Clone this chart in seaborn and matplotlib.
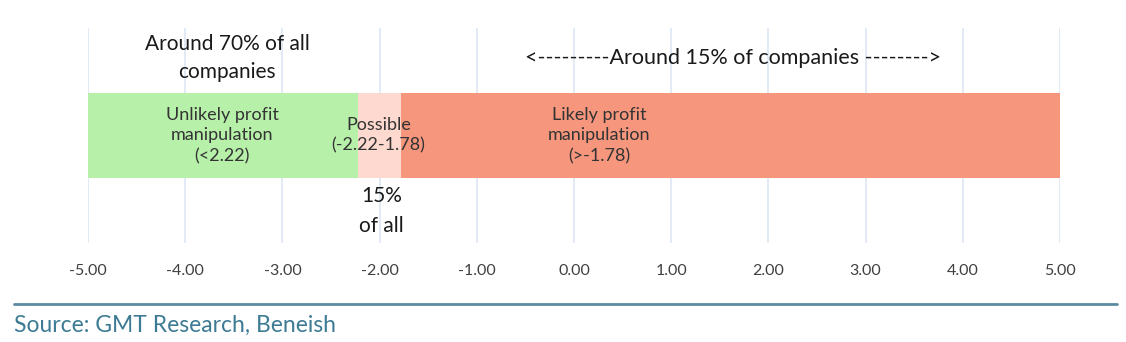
import matplotlib
matplotlib.use("Agg")
import matplotlib.pyplot as plt
import seaborn as sns
import pandas as pd

# Data
segments = ["Unlikely profit\nmanipulation\n(<2.22)", "Possible\n(-2.22-1.78)", "Likely profit\nmanipulation\n(>-1.78)"]
seg_start = [-5.00, -2.22, -1.78]
seg_end = [-2.22, -1.78, 5.00]
seg_colors = ["#b7f0a9", "#fdd9cf", "#f5967d"]
label_x = [-3.62, -2.01, 0.26]
x_ticks = [-5, -4, -3, -2, -1, 0, 1, 2, 3, 4, 5]
tick_labels = ["%.2f" % t for t in x_ticks]
top_left_note = "Around 70% of all\ncompanies"
top_right_note = "<---------Around 15% of companies -------->"
mid_note = "15%\nof all"
source = "Source: GMT Research, Beneish"

sns.set_theme(style="white")
plt.rcParams['font.family'] = ['Lato', 'DejaVu Sans']

fig = plt.figure(figsize=(11.26, 3.42), dpi=100)
ax = fig.add_axes([88/1126, 1-243/342, (1060-88)/1126, (243-28)/342])

df = pd.DataFrame({"label": segments, "start": seg_start, "end": seg_end})
df["width"] = df["end"] - df["start"]
for i, r in df.iterrows():
    ax.barh(0.5, r["width"], left=r["start"], height=0.395, color=seg_colors[i],
            linewidth=0, zorder=2)
    ax.text(label_x[i], 0.5, r["label"], ha="center", va="center", fontsize=13,
            color="#333333", linespacing=1.35, zorder=3)

ax.set_xlim(-5, 5)
ax.set_ylim(0, 1)
ax.set_xticks(x_ticks)
ax.set_xticklabels(tick_labels, fontsize=11.5, color="#404040")
ax.set_yticks([])
ax.tick_params(axis="x", length=0, pad=15)
for s in ax.spines.values():
    s.set_visible(False)
ax.grid(axis="x", color="#dbe6f3", linewidth=1.2, zorder=0)
ax.set_axisbelow(True)

ax.text(-3.57, 0.86, top_left_note, ha="center", va="center", fontsize=15,
        color="#1a1a1a", linespacing=1.55)
ax.text(1.64, 0.86, top_right_note, ha="center", va="center", fontsize=15.5,
        color="#1a1a1a")
ax.text(-1.98, 0.15, mid_note, ha="center", va="center", fontsize=15,
        color="#1a1a1a", linespacing=1.6)

fig.add_artist(plt.Line2D([14/1126, 1117/1126], [1-304/342, 1-304/342],
                          color="#5b8ba0", linewidth=2, transform=fig.transFigure))
fig.text(14/1126, 1-325/342, source, ha="left", va="center", fontsize=16.5, color="#3c7b93")

fig.savefig("out.png", dpi=100)
